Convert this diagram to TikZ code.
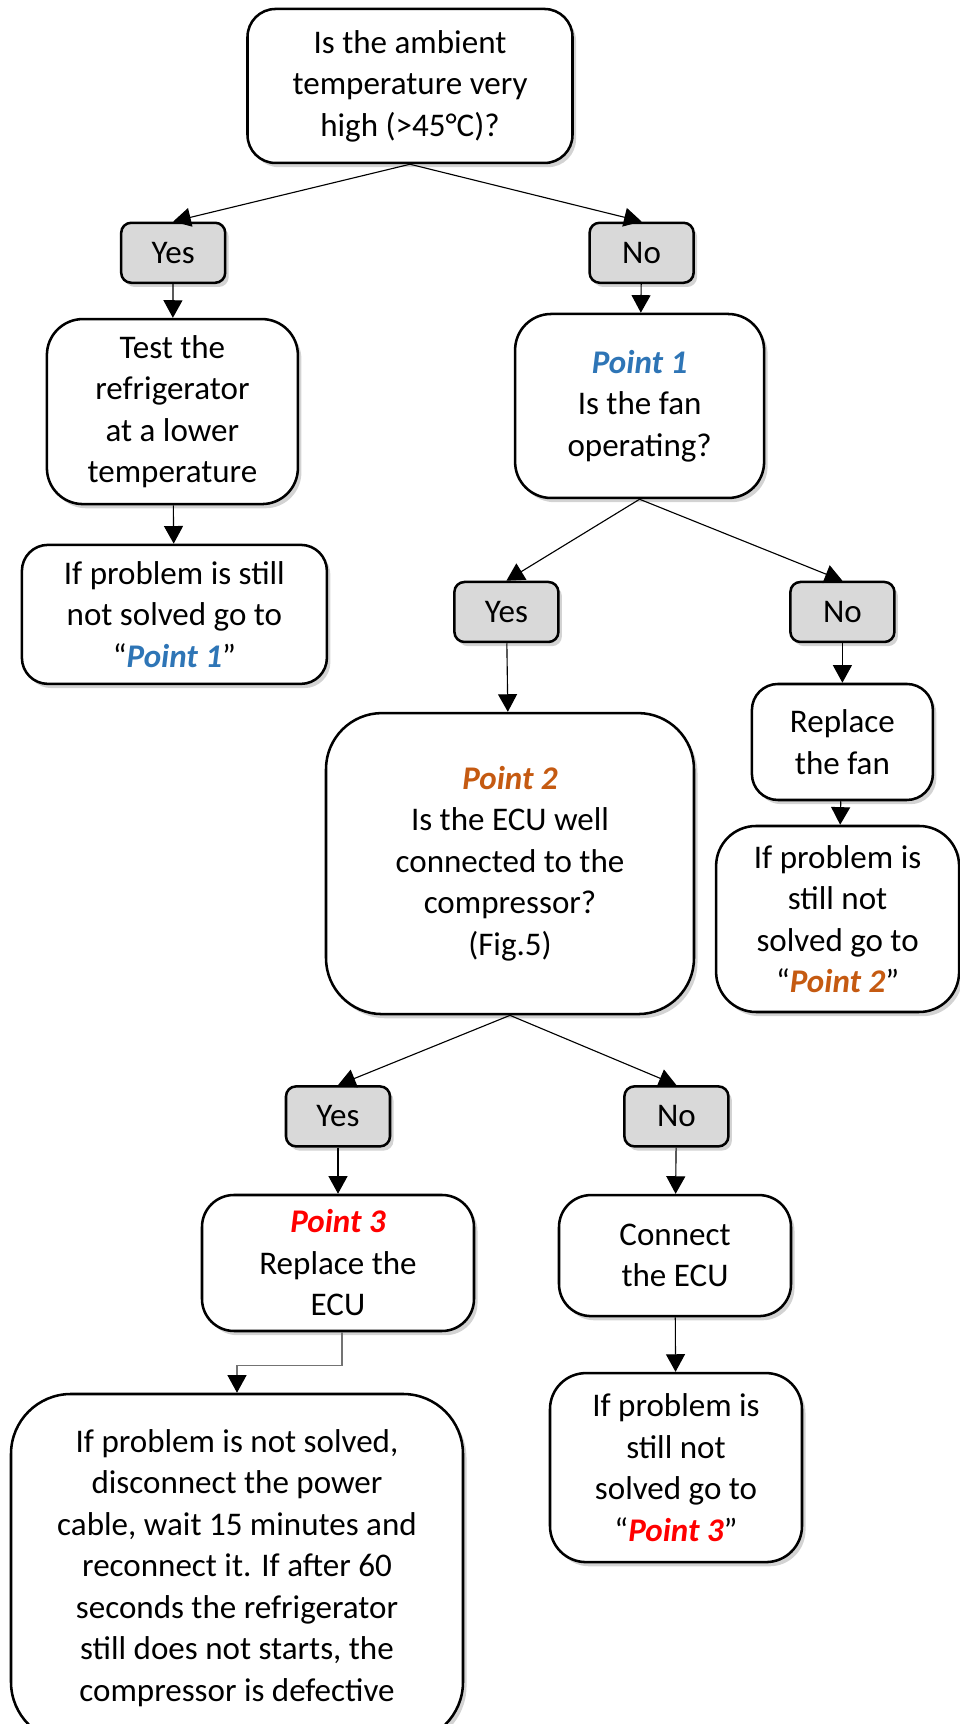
\documentclass[tikz,border=0pt]{standalone}
\usepackage{fontspec}
\setmainfont{Carlito}
\usepackage{tikz}
\usetikzlibrary{arrows.meta,shadows}
\definecolor{ptblue}{HTML}{2E75B6}
\definecolor{ptorange}{HTML}{C55A11}
\definecolor{ptred}{HTML}{FF0000}
\tikzstyle{box}=[draw=black,line width=1.8pt,fill=white,align=center,inner sep=2pt,
  font=\fontsize{23.5pt}{29.5pt}\selectfont,
  drop shadow={shadow xshift=2.5pt,shadow yshift=-3pt,opacity=0.35,fill=gray}]
\tikzstyle{answer}=[box,fill=black!15,rounded corners=0.25cm,minimum width=2.6cm,minimum height=1.5cm]
\tikzstyle{link}=[line width=0.8pt,-{Triangle[length=12.5pt,width=13.5pt]}]
\newcommand{\pointone}{\textbf{\textit{\color{ptblue}Point 1}}}
\newcommand{\pointtwo}{\textbf{\textit{\color{ptorange}Point 2}}}
\newcommand{\pointthree}{\textbf{\textit{\color{ptred}Point 3}}}

\begin{document}
\begin{tikzpicture}
                  \useasboundingbox (0,0) rectangle (24,43.1);

                  \node (ambient) at (10.25,40.95) [box,rounded corners=0.7cm,minimum width=8.125cm,minimum height=3.85cm]
                      {Is the ambient\\temperature very\\high (>45°C)?};
                  \node (yes1) at (4.33,36.78) [answer] {Yes};
                  \node (no1) at (16.04,36.78) [answer] {No};

                  \node (test) at (4.31,32.81) [box,rounded corners=0.9cm,minimum width=6.275cm,minimum height=4.625cm]
                      {Test the\\refrigerator\\at a lower\\temperature};
                  \node (goto1) at (4.36,27.74) [box,rounded corners=0.65cm,minimum width=7.625cm,minimum height=3.475cm]
                      {If problem is still\\not solved go to\\“\pointone”};

                  \node (point1) at (15.99,32.95) [box,rounded corners=0.9cm,minimum width=6.225cm,minimum height=4.6cm]
                      {\pointone\\Is the fan\\operating?};
                  \node (yes2) at (12.66,27.8) [answer] {Yes};
                  \node (no2) at (21.06,27.8) [answer] {No};

                  \node (fan) at (21.06,24.55) [box,rounded corners=0.65cm,minimum width=4.525cm,minimum height=2.9cm]
                      {Replace\\the fan};
                  \node (goto2) at (20.94,20.125) [box,rounded corners=1cm,minimum width=6.075cm,minimum height=4.65cm]
                      {If problem is\\still not\\solved go to\\“\pointtwo”};

                  \node (point2) at (12.75,21.51) [box,rounded corners=1.4cm,minimum width=9.2cm,minimum height=7.525cm]
                      {\pointtwo\\Is the ECU well\\connected to the\\compressor?\\(Fig.5)};
                  \node (yes3) at (8.45,15.19) [answer] {Yes};
                  \node (no3) at (16.91,15.19) [answer] {No};

                  \node (point3) at (8.45,11.525) [box,rounded corners=0.8cm,minimum width=6.8cm,minimum height=3.4cm]
                      {\pointthree\\Replace the\\ECU};
                  \node (connect) at (16.875,11.71) [box,rounded corners=0.8cm,minimum width=5.8cm,minimum height=3.025cm]
                      {Connect\\the ECU};
                  \node (goto3) at (16.9,6.41) [box,rounded corners=0.9cm,minimum width=6.3cm,minimum height=4.725cm]
                      {If problem is\\still not\\solved go to\\“\pointthree”};

                  \node (final) at (5.925,3.9) [box,rounded corners=1.5cm,minimum width=11.3cm,minimum height=8.7cm]
                      {If problem is not solved,\\disconnect the power\\cable, wait 15 minutes and\\reconnect it. If after 60\\seconds the refrigerator\\still does not starts, the\\compressor is defective};

                  \draw [link] (ambient.south) -- (yes1.north);
                  \draw [link] (ambient.south) -- (no1.north);
                  \draw [link] (yes1) -- (test);
                  \draw [link] (test) -- (goto1);
                  \draw [link] (no1) -- (point1);

                  \draw [link] (point1.south) -- (yes2.north);
                  \draw [link] (point1.south) -- (no2.north);
                  \draw [link] (yes2) -- (point2);
                  \draw [link] (no2) -- (fan);
                  \draw [link] (fan) -- (goto2);

                  \draw [link] (point2.south) -- (yes3.north);
                  \draw [link] (point2.south) -- (no3.north);
                  \draw [link] (yes3) -- (point3);
                  \draw [link] (no3) -- (connect);
                  \draw [link] (connect) -- (goto3);

                  \draw [link,draw=black!55,-{Triangle[length=12.5pt,width=13.5pt,color=black]}]
                      ([xshift=0.1cm]point3.south) -- ++(0,-0.825) -| (final.north);
              \end{tikzpicture}
\end{document}
